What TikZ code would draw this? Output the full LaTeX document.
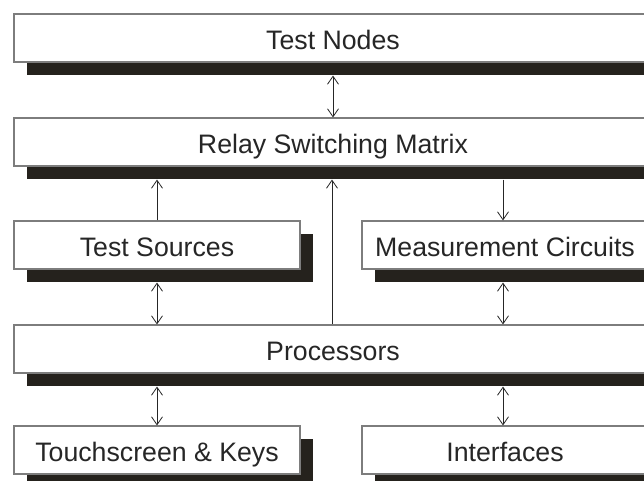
\documentclass[tikz,border=0pt]{standalone}
\usepackage{fontspec}
\setmainfont{Liberation Sans}
\usetikzlibrary{shapes,arrows,positioning,calc,shadows,arrows.meta}
\definecolor{shadowdark}{RGB}{37,34,29}
\definecolor{boxline}{RGB}{125,125,125}

\begin{document}
\begin{tikzpicture}[x=1pt,y=-1pt,
    block/.style={draw=boxline, line width=1.1pt, fill=white, inner sep=0pt,
        minimum height=48pt, text height=26pt, text depth=4pt,
        font=\fontsize{26.7}{30}\selectfont, text=black!85,
        drop shadow={shadow xshift=13pt, shadow yshift=-13pt, fill=shadowdark, opacity=1}},
    wide/.style={block, minimum width=638pt},
    half/.style={block, minimum width=286pt},
    >={Straight Barb[length=8pt,width=11pt]},
    link/.style={line width=0.8pt, draw=black!85}]
    \useasboundingbox (0,0) rectangle (644,480);

    % Blocks
    \node[wide] (tn)   at (333,38)  {Test Nodes};
    \node[wide] (rsm)  at (333,142) {Relay Switching Matrix};
    \node[half] (ts)   at (157,245) {Test Sources};
    \node[half] (mc)   at (505,245) {Measurement Circuits};
    \node[wide] (proc) at (333,349) {Processors};
    \node[half] (tk)   at (157,450) {Touchscreen \& Keys};
    \node[half] (intf) at (505,450) {Interfaces};

    % Bottom edges of the shadows
    \coordinate (tnb)   at ([yshift=-13pt]tn.south);
    \coordinate (rsmb)  at ([yshift=-13pt]rsm.south);
    \coordinate (tsb)   at ([yshift=-13pt]ts.south);
    \coordinate (mcb)   at ([yshift=-13pt]mc.south);
    \coordinate (procb) at ([yshift=-13pt]proc.south);

    % Links
    \draw[link,<->] (tnb) -- (rsm.north);
    \draw[link,->] (ts.north) -- (ts.north |- rsmb);
    \draw[link,->] (rsmb -| 503,0) -- (mc.north -| 503,0);
    \draw[link,->] ([xshift=-1pt]proc.north) -- ([xshift=-1pt]proc.north |- rsmb);
    \draw[link,<->] (tsb) -- (tsb |- proc.north);
    \draw[link,<->] (mcb -| 503,0) -- (proc.north -| 503,0);
    \draw[link,<->] (procb -| tk.north) -- (tk.north);
    \draw[link,<->] (procb -| 503,0) -- (intf.north -| 503,0);
\end{tikzpicture}
\end{document}
